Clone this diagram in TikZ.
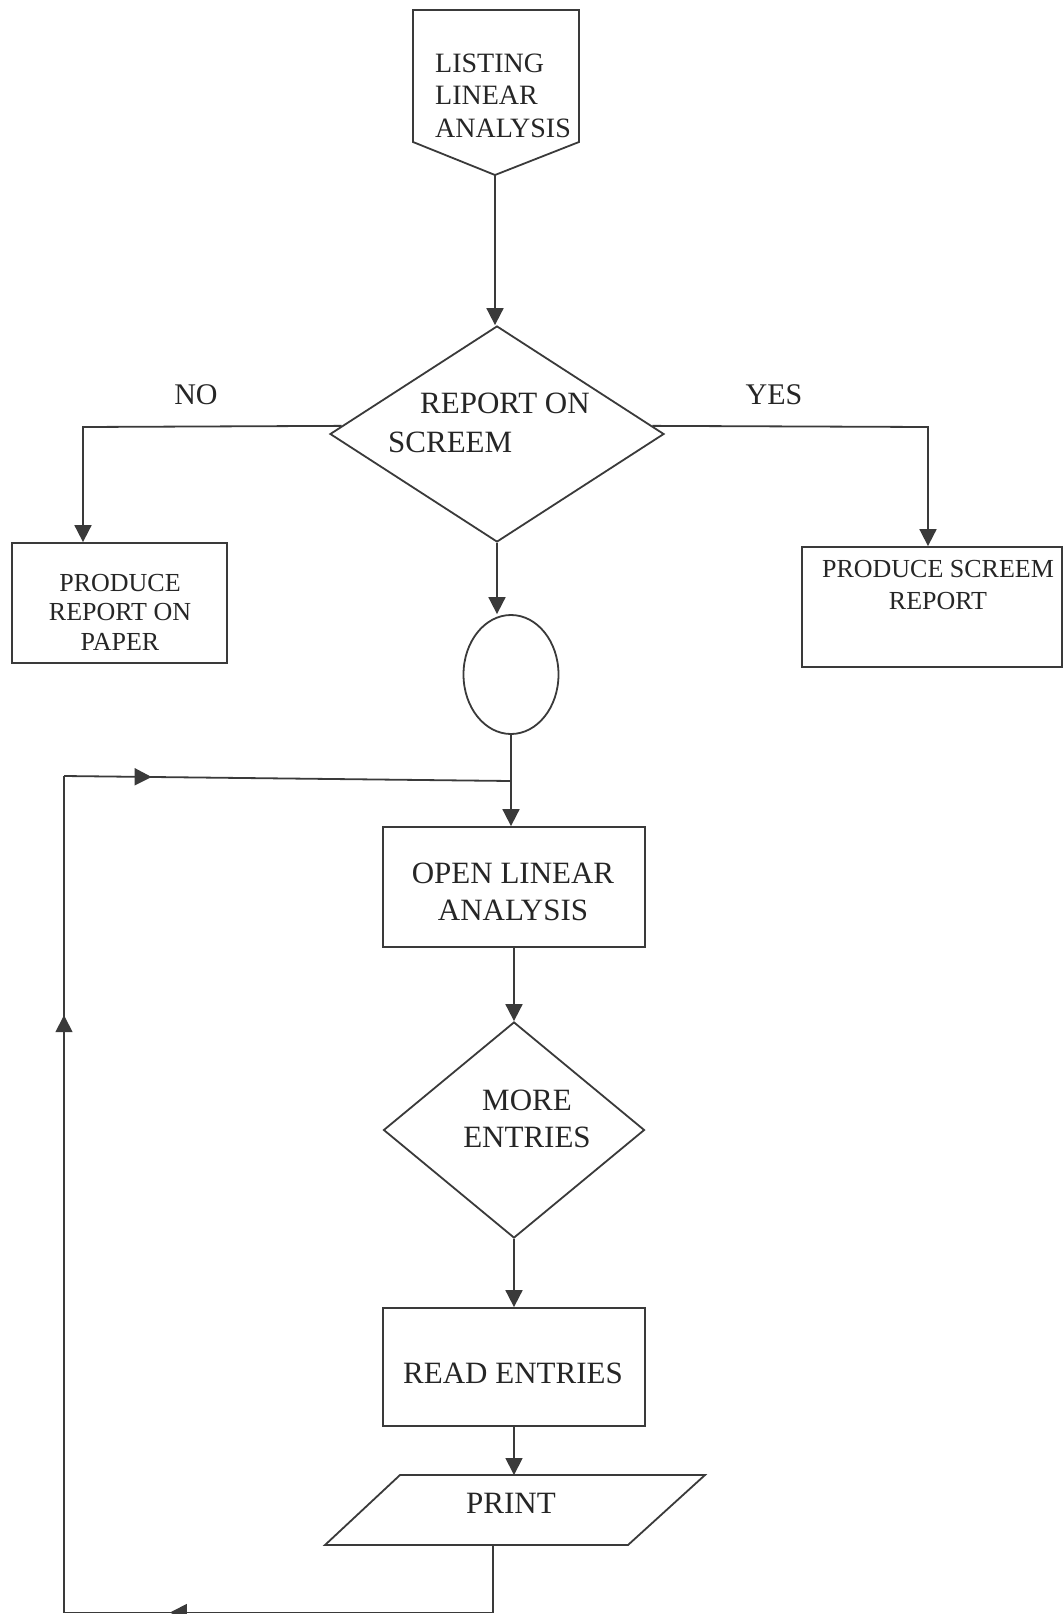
\documentclass[tikz,border=0pt]{standalone}
\usepackage{fontspec}
\setmainfont{Liberation Serif}
\usetikzlibrary{shapes.geometric,arrows.meta,decorations.markings}
\definecolor{lc}{RGB}{58,58,58}
\definecolor{tc}{RGB}{38,38,38}
\tikzset{
  ln/.style={draw=lc, line width=1.8pt},
  arr/.style={ln, -{Triangle[length=17pt,width=17pt]}},
  boxshape/.style={draw=lc, line width=1.8pt, rectangle, inner sep=0pt},
  dia/.style={draw=lc, line width=1.8pt, diamond, inner sep=0pt},
  txt/.style={text=tc, inner sep=0pt, font=\fontsize{31}{36}\selectfont},
  txtsmall/.style={text=tc, inner sep=0pt, font=\fontsize{26}{30}\selectfont},
  txtpent/.style={text=tc, inner sep=0pt, font=\fontsize{28}{32}\selectfont},
  txtlab/.style={text=tc, inner sep=0pt, font=\fontsize{30}{34}\selectfont},
  midarr/.style={postaction={decorate}, decoration={markings,
      mark=at position #1 with {\arrow{Triangle[length=17pt,width=17pt]}}}}
}
\begin{document}
\begin{tikzpicture}[x=1pt,y=-1pt]
\useasboundingbox (0,0) rectangle (1064,1614);
\fill[white] (0,0) rectangle (1064,1614);

% start pentagon (off-page connector shape)
\draw[ln] (413,10) -- (579,10) -- (579,142) -- (495,175) -- (413,142) -- cycle;
\coordinate (pentTip) at (495,175);
\node[txtpent, anchor=base west] (tL1) at (435,72) {LISTING};
\node[txtpent, anchor=base west] (tL2) at (435,104) {LINEAR};
\node[txtpent, anchor=base west] (tL3) at (435,137) {ANALYSIS};

% decision 1
\node[dia, minimum width=334pt, minimum height=216pt] (d1) at (497,434) {};
\node[txt, anchor=base west] (d1a) at (420,413) {REPORT ON};
\node[txt, anchor=base west] (d1b) at (388,452) {SCREEM};
\node[txtlab, anchor=base] (no) at (196,404) {NO};
\node[txtlab, anchor=base] (yes) at (774,404) {YES};

% side boxes
\node[boxshape, minimum width=215pt, minimum height=120pt] (b1) at (119.5,603) {};
\node[txtsmall, anchor=base] (b1a) at (120,591.5) {PRODUCE};
\node[txtsmall, anchor=base] (b1b) at (120,620.5) {REPORT ON};
\node[txtsmall, anchor=base] (b1c) at (120,650.5) {PAPER};

\node[boxshape, minimum width=260pt, minimum height=120pt] (b2) at (932,607) {};
\node[txtsmall, anchor=base] (b2a) at (938,577) {PRODUCE SCREEM};
\node[txtsmall, anchor=base] (b2b) at (938,609) {REPORT};

% connector circle
\node[draw=lc, line width=1.8pt, ellipse, inner sep=0pt, minimum width=95pt, minimum height=119pt] (circ) at (511,674.5) {};

% open linear analysis
\node[boxshape, minimum width=262pt, minimum height=120pt] (ob) at (514,887) {};
\node[txt, anchor=base] (oba) at (513,883) {OPEN LINEAR};
\node[txt, anchor=base] (obb) at (513,920) {ANALYSIS};

% decision 2
\node[dia, minimum width=261pt, minimum height=216pt] (d2) at (514,1130) {};
\node[txt, anchor=base] (d2a) at (527,1110) {MORE};
\node[txt, anchor=base] (d2b) at (527,1147) {ENTRIES};

% read entries
\node[boxshape, minimum width=262pt, minimum height=118pt] (rb) at (514,1367) {};
\node[txt, anchor=base] (rba) at (513,1383) {READ ENTRIES};

% print parallelogram
\draw[ln] (400,1475) -- (705,1475) -- (628,1545) -- (325,1545) -- cycle;
\node[txt, anchor=base] (pr) at (511,1513) {PRINT};
\coordinate (prT) at (514,1475);
\coordinate (prB) at (493,1545);

% connectors
\draw[arr] (pentTip) -- (pentTip |- d1.north);
\coordinate (nL) at (83,427);
\draw[arr] (d1.177) -- (nL) -- (nL |- b1.north);
\coordinate (nR) at (928,427);
\draw[arr] (d1.3) -- (nR) -- (nR |- b2.north);
\draw[arr] (d1.south) -- (d1.south |- circ.north);
\draw[arr] (circ.south) -- (circ.south |- ob.north);
\draw[arr] (ob.south) -- (ob.south |- d2.north);
\draw[arr] (d2.south) -- (d2.south |- rb.north);
\draw[arr] (rb.south) -- (prT);

% loop back
\coordinate (cBR) at (493,1612.5);
\coordinate (cBL) at (64,1612.5);
\coordinate (cTL) at (64,776);
\coordinate (jn) at (511,781);
\draw[ln] (prB) -- (cBR);
\draw[ln, midarr=0.753] (cBR) -- (cBL);
\draw[ln, midarr=0.714] (cBL) -- (cTL);
\draw[ln, midarr=0.196] (cTL) -- (jn);
\end{tikzpicture}
\end{document}
